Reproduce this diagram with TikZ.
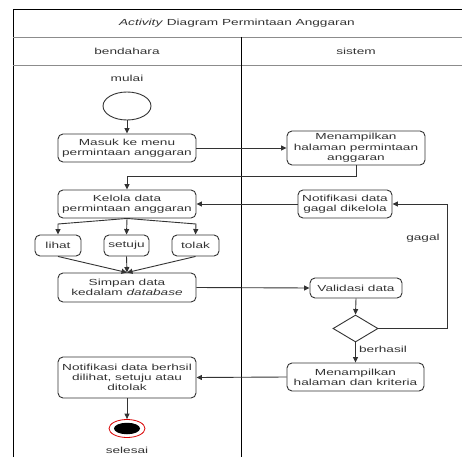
\documentclass[tikz,border=0pt]{standalone}
\usepackage{fontspec}
\setmainfont[FakeStretch=1.55]{Liberation Sans}
\usetikzlibrary{arrows.meta,shapes.geometric}
\definecolor{ink}{HTML}{333333}
\definecolor{rule}{HTML}{8C8C8C}
\newcommand{\bodyfont}{\fontsize{8.8pt}{10.3pt}\selectfont}
\begin{document}
\begin{tikzpicture}[x=1pt,y=-1pt,
  box/.style={draw=ink, rounded corners=5pt, line width=0.9pt, align=center,
    text=ink, font=\bodyfont, inner sep=0pt},
  lbl/.style={text=ink, font=\bodyfont, inner sep=0pt},
  flow/.style={draw=ink, line width=0.9pt, -{Triangle[length=5.5pt,width=5pt]}}]
\useasboundingbox (0,0) rectangle (462,457);
\fill[white] (0,0) rectangle (462,457);

% swimlane frame
\draw[line width=1pt, black] (13,457) -- (13,9.5) -- (462,9.5);
\draw[line width=0.9pt, rule] (13,37) -- (462,37);
\draw[line width=0.9pt, rule] (13,65) -- (462,65);
\draw[line width=1pt, black] (241,37) -- (241,457);
\node[lbl] (title) at (237,23) {\textit{Activity} Diagram Permintaan Anggaran};
\node[lbl] (laneA) at (127,51) {bendahara};
\node[lbl] (laneB) at (356,51) {sistem};

% initial node
\node[lbl] (mulai) at (127,78) {mulai};
\node[draw=ink, line width=0.9pt, ellipse, minimum width=48pt, minimum height=28pt, inner sep=0pt] (start) at (127,106) {};

% actions
\node[box, minimum width=138pt, minimum height=28pt] (masuk) at (127,148) {Masuk ke menu\\permintaan anggaran};
\node[box, minimum width=138pt, minimum height=34pt] (tampil) at (356,148) {Menampilkan\\halaman permintaan\\anggaran};
\node[box, minimum width=138pt, minimum height=28pt] (kelola) at (127,204) {Kelola data\\permintaan anggaran};
\node[box, minimum width=94pt, minimum height=28pt] (gagalbox) at (345,204) {Notifikasi data\\gagal dikelola};
\node[box, minimum width=46pt, minimum height=21pt] (lihat) at (58,245.5) {lihat};
\node[box, minimum width=45pt, minimum height=21pt] (setuju) at (126.5,245.5) {setuju};
\node[box, minimum width=47pt, minimum height=21pt] (tolak) at (195.5,245.5) {tolak};
\node[box, minimum width=138pt, minimum height=29pt] (simpan) at (127,287.5) {Simpan data\\kedalam \textit{database}};
\node[box, minimum width=92pt, minimum height=20pt] (validasi) at (356,288) {Validasi data};
\node[draw=ink, line width=0.9pt, diamond, minimum width=45pt, minimum height=27pt, inner sep=0pt] (dec) at (355.5,328.5) {};
\node[box, minimum width=137pt, minimum height=28pt] (kriteria) at (355.5,377) {Menampilkan\\halaman dan kriteria};
\node[box, minimum width=138pt, minimum height=41pt] (berhsil) at (127,377.5) {Notifikasi data berhsil\\dilihat, setuju atau\\ditolak};

% final node
\node[draw=red!85!black, line width=0.8pt, ellipse, minimum width=36pt, minimum height=18pt, inner sep=0pt] (stop) at (127,428.5) {};
\node[fill=black, ellipse, minimum width=26pt, minimum height=11.5pt, inner sep=0pt] (stopdot) at (127,428.5) {};
\node[lbl] (selesai) at (127,450) {selesai};

% guard labels
\node[lbl] (lgagal) at (423,238) {gagal};
\node[lbl] (lberhasil) at (383,349) {berhasil};

% helper points
\coordinate (fanL) at (58,224);
\coordinate (fanR) at (196,224);
\coordinate (loop) at (447,328.5);

% control flow
\draw[flow] (start) -- (masuk);
\draw[flow] (masuk.east) -- (tampil.west);
\draw[flow] (tampil.south) -- ++(0,11) -| (kelola.north);
\draw[flow] (gagalbox.west) -- (kelola.east);
\draw[flow] (kelola.south) -- (fanL) -- (lihat.north);
\draw[flow] (kelola.south) -- (setuju.north);
\draw[flow] (kelola.south) -- (fanR) -- (tolak.north);
\draw[flow] (lihat.south) -- (simpan.north);
\draw[flow] (setuju.south) -- (simpan.north);
\draw[flow] (tolak.south) -- (simpan.north);
\draw[flow] (simpan.east) -- (validasi.west);
\draw[flow] (validasi.south) -- (dec.north);
\draw[flow] (dec.east) -- (loop) |- (gagalbox.east);
\draw[flow] (dec.south) -- (kriteria.north);
\draw[flow] (kriteria.west) -- (berhsil.east);
\draw[flow] (berhsil.south) -- (stop.north);
\end{tikzpicture}
\end{document}
